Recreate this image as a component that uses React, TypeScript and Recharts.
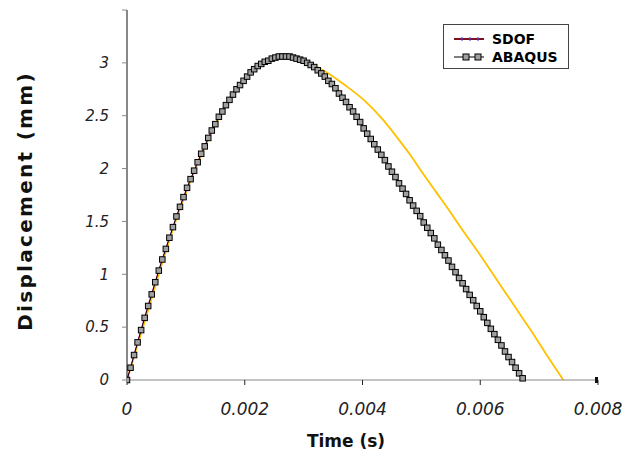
import { LineChart, Line, XAxis, YAxis, Label } from 'recharts';

// ABAQUS output, one sample every 0.06 ms
const abaqusStep = 0.00006;
const abaqusDisp = [
  0, 0.116, 0.236, 0.356, 0.472, 0.588, 0.7, 0.81, 0.925, 1.035,
  1.14, 1.24, 1.346, 1.446, 1.547, 1.638, 1.73, 1.818, 1.9, 1.98,
  2.06, 2.14, 2.21, 2.29, 2.36, 2.42, 2.49, 2.54, 2.6, 2.65,
  2.7, 2.75, 2.79, 2.83, 2.87, 2.91, 2.94, 2.97, 2.99, 3.01,
  3.02, 3.04, 3.05, 3.06, 3.06, 3.06, 3.06, 3.05, 3.04, 3.03,
  3.02, 3.0, 2.98, 2.96, 2.93, 2.9, 2.87, 2.83, 2.8, 2.76,
  2.71, 2.67, 2.63, 2.58, 2.54, 2.49, 2.44, 2.38, 2.33, 2.28,
  2.23, 2.18, 2.13, 2.08, 2.02, 1.97, 1.92, 1.86, 1.81, 1.76,
  1.7, 1.65, 1.6, 1.55, 1.49, 1.44, 1.39, 1.34, 1.28, 1.23,
  1.18, 1.13, 1.07, 1.02, 0.965, 0.915, 0.86, 0.805, 0.755, 0.7,
  0.65, 0.594, 0.54, 0.484, 0.434, 0.38, 0.327, 0.27, 0.217, 0.17,
  0.116, 0.063, 0.016,
];

const sdofTime = [
  0, 0.0003, 0.0006, 0.0009, 0.0012, 0.0015, 0.0018, 0.0021, 0.0024, 0.0027,
  0.003, 0.0033, 0.0036, 0.0039, 0.0042, 0.0045, 0.0048, 0.0051, 0.0054, 0.0057,
  0.006, 0.0063, 0.0066, 0.0067,
];
const sdofDisp = [
  0, 0.6, 1.15, 1.64, 2.06, 2.42, 2.7, 2.91, 3.02, 3.06,
  3.02, 2.9, 2.71, 2.49, 2.23, 1.97, 1.7, 1.44, 1.18, 0.915,
  0.65, 0.38, 0.116, 0.02,
];

const otherTime = [
  0, 0.0003, 0.0006, 0.0009, 0.0012, 0.0015, 0.0018, 0.0021, 0.0024, 0.0027,
  0.0029, 0.0031, 0.00336, 0.0037, 0.00404, 0.00435, 0.00458, 0.00481, 0.00503, 0.00526,
  0.00549, 0.00571, 0.00594, 0.00617, 0.0064, 0.0067, 0.00693, 0.00716, 0.00741,
];
const otherDisp = [
  0, 0.55, 1.11, 1.62, 2.05, 2.41, 2.7, 2.91, 3.02, 3.06,
  3.05, 3.0, 2.92, 2.79, 2.64, 2.46, 2.3, 2.13, 1.95, 1.77,
  1.59, 1.41, 1.23, 1.04, 0.85, 0.6, 0.41, 0.21, 0,
];

const endTime = [0.008];
const endDisp = [0];

const xTicks = [0, 0.002, 0.004, 0.006, 0.008];
const yTicks = [0, 0.5, 1, 1.5, 2, 2.5, 3, 3.5];

const abaqusData = abaqusDisp.map((d, i) => ({ t: i * abaqusStep, d }));
const sdofData = sdofTime.map((t, i) => ({ t, d: sdofDisp[i] }));
const otherData = otherTime.map((t, i) => ({ t, d: otherDisp[i] }));
const endData = endTime.map((t, i) => ({ t, d: endDisp[i] }));

const tickFont = { fontFamily: 'DejaVu Sans', fontStyle: 'italic', fill: '#222' };

const SquareDot = (props: any) => {
  const { cx, cy, index } = props;
  if (cx == null || cy == null) return null;
  return (
    <rect key={`sq-${index}`} x={cx - 2.75} y={cy - 2.75} width={5.5} height={5.5}
      fill="#a0a0a0" stroke="#000" strokeWidth={1} />
  );
};

const EndDot = (props: any) => {
  const { cx, cy } = props;
  if (cx == null || cy == null) return null;
  return <rect x={cx - 3} y={cy - 3} width={6} height={6} fill="#111" />;
};

const LegendBox = () => (
  <div style={{
    position: 'absolute', left: 443, top: 24, width: 124, height: 43,
    border: '1px solid #444', background: '#fff',
    fontFamily: 'DejaVu Sans', fontWeight: 'bold', fontSize: 14, color: '#111',
  }}>
    <svg width={124} height={43} style={{ position: 'absolute', left: 0, top: 0 }}>
      <line x1={10} y1={14} x2={40} y2={14} stroke="#7a1020" strokeWidth={2} />
      <line x1={18} y1={12} x2={18} y2={16} stroke="#4040ff" strokeWidth={1} />
      <line x1={26} y1={12} x2={26} y2={16} stroke="#4040ff" strokeWidth={1} />
      <line x1={34} y1={12} x2={34} y2={16} stroke="#4040ff" strokeWidth={1} />
      <line x1={10} y1={32} x2={40} y2={32} stroke="#000" strokeWidth={1} />
      <rect x={19} y={29} width={6} height={6} fill="#a0a0a0" stroke="#000" />
      <rect x={31} y={29} width={6} height={6} fill="#a0a0a0" stroke="#000" />
      <text x={48} y={19}>SDOF</text>
      <text x={48} y={37}>ABAQUS</text>
    </svg>
  </div>
);

export default function App() {
  return (
    <div style={{ position: 'absolute', left: 0, top: 0, width: 629, height: 455, background: '#fff' }}>
      <LineChart width={629} height={455} margin={{ top: 10, right: 31, left: 0, bottom: 0 }}>
        <XAxis
          type="number"
          dataKey="t"
          domain={[0, 0.008]}
          ticks={xTicks}
          allowDataOverflow
          height={75}
          stroke="#888"
          tickLine={{ stroke: '#222' }}
          tickSize={5}
          tickMargin={18}
          tick={{ ...tickFont, fontSize: 17 }}
          tickFormatter={(v: number) => (v === 0 ? '0' : v.toFixed(3))}
        >
          <Label
            content={() => (
              <text x={346} y={447} textAnchor="middle" fontFamily="DejaVu Sans" fontWeight="bold" fontSize={17} fill="#111">
                Time (s)
              </text>
            )}
          />
        </XAxis>
        <YAxis
          type="number"
          dataKey="d"
          domain={[0, 3.5]}
          ticks={yTicks}
          width={127}
          stroke="#111"
          tickLine={{ stroke: '#888' }}
          tickSize={5}
          tickMargin={13}
          tick={{ ...tickFont, fontSize: 15 }}
          tickFormatter={(v: number) => (v === 3.5 ? '' : String(v))}
        >
          <Label
            content={() => (
              <text x={32} y={201} textAnchor="middle" transform="rotate(-90 32 201)"
                fontFamily="DejaVu Sans" fontWeight="bold" fontSize={20} letterSpacing={2.3} fill="#111">
                Displacement (mm)
              </text>
            )}
          />
        </YAxis>
        <Line data={otherData} dataKey="d" type="monotone" stroke="#ffc000" strokeWidth={1.8} dot={false} isAnimationActive={false} />
        <Line data={sdofData} dataKey="d" stroke="#ff30ff" strokeWidth={1} dot={false} isAnimationActive={false} />
        <Line data={abaqusData} dataKey="d" stroke="#000" strokeWidth={1} dot={<SquareDot />} isAnimationActive={false} />
        <Line data={endData} dataKey="d" stroke="#000" dot={<EndDot />} isAnimationActive={false} />
      </LineChart>
      <LegendBox />
    </div>
  );
}
